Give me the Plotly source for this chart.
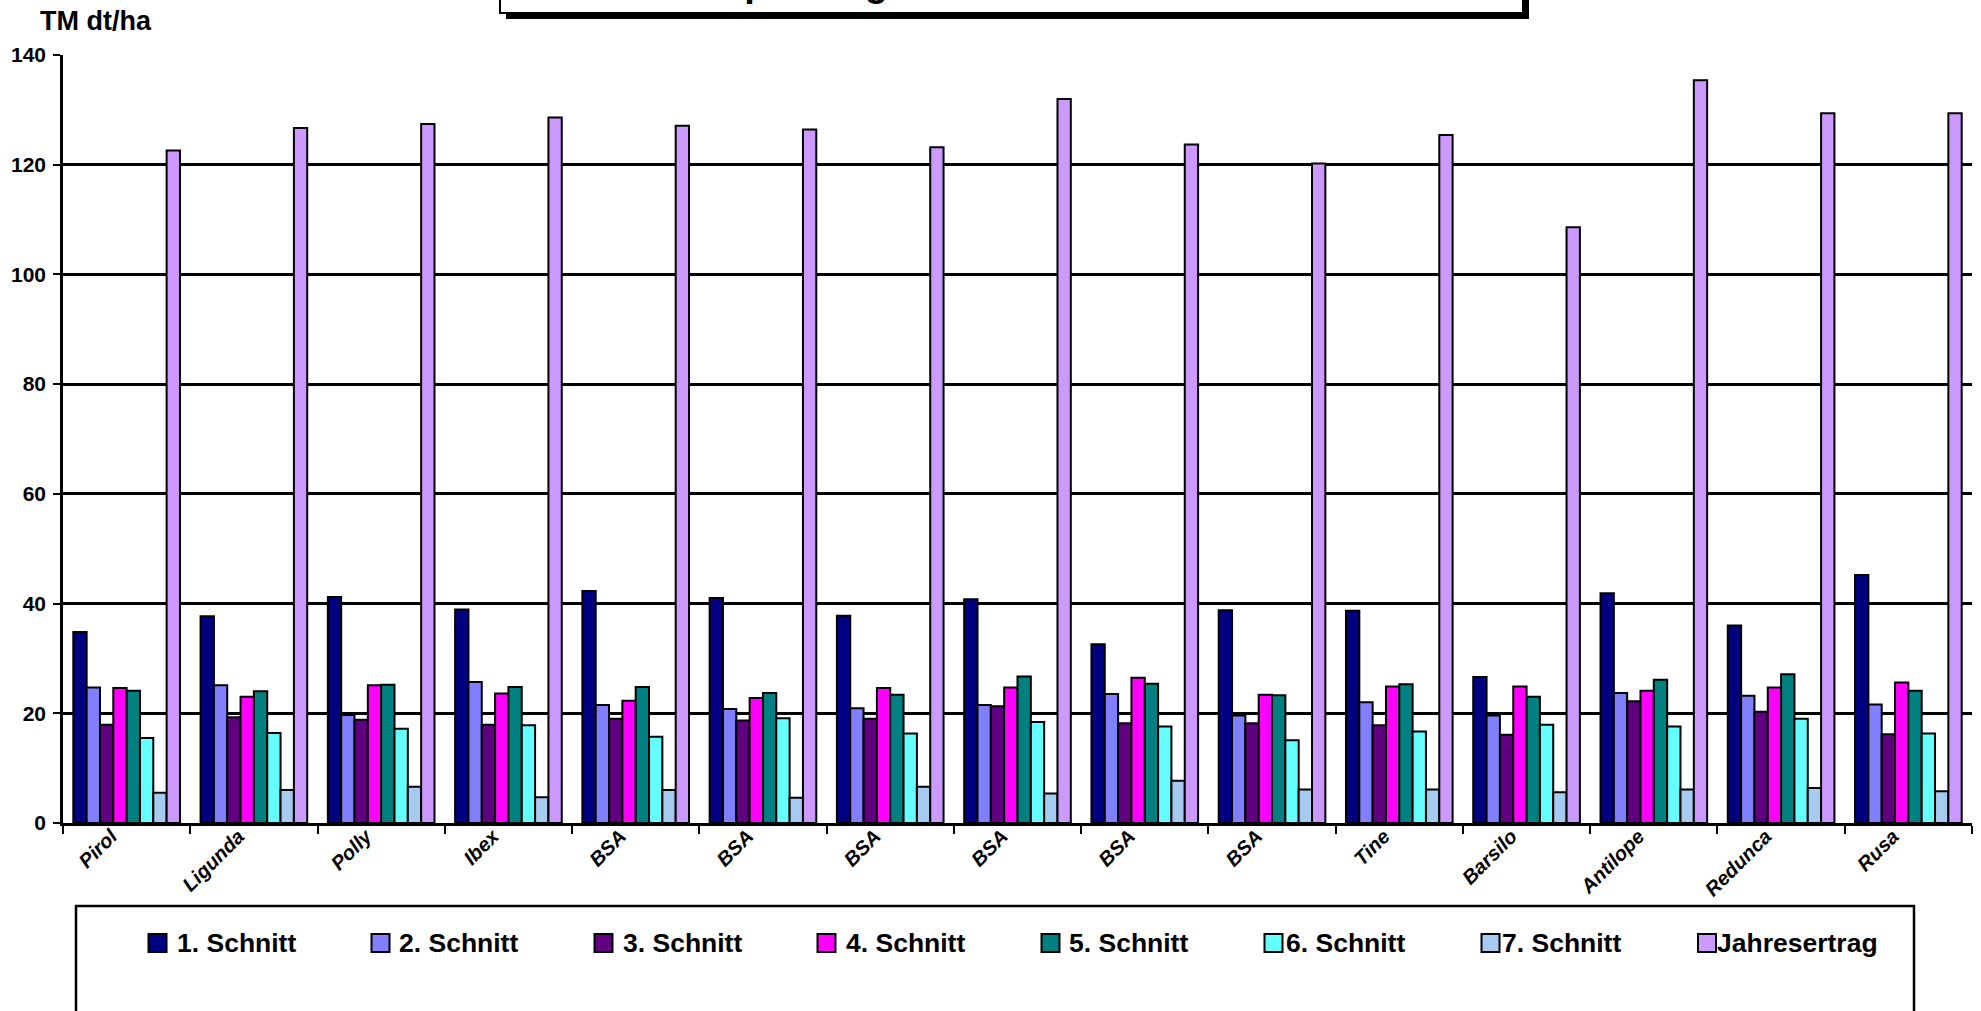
import plotly.graph_objects as go

# ---------------- data ----------------
categories = ["Pirol", "Ligunda", "Polly", "Ibex", "BSA", "BSA", "BSA", "BSA",
              "BSA", "BSA", "Tine", "Barsilo", "Antilope", "Redunca", "Rusa"]

schnitt1 = [34.8, 37.7, 41.2, 38.9, 42.3, 41.0, 37.8, 40.8, 32.6, 38.8, 38.7, 26.6, 41.9, 36.0, 45.2]
schnitt2 = [24.7, 25.1, 19.7, 25.7, 21.5, 20.8, 20.9, 21.5, 23.5, 19.6, 22.0, 19.6, 23.7, 23.2, 21.6]
schnitt3 = [17.9, 19.3, 18.8, 17.9, 19.0, 18.7, 19.0, 21.3, 18.2, 18.2, 17.8, 16.1, 22.2, 20.3, 16.2]
schnitt4 = [24.6, 23.0, 25.1, 23.6, 22.3, 22.8, 24.6, 24.7, 26.5, 23.4, 24.9, 24.9, 24.1, 24.7, 25.6]
schnitt5 = [24.1, 24.0, 25.2, 24.8, 24.8, 23.7, 23.4, 26.7, 25.4, 23.3, 25.3, 23.0, 26.1, 27.1, 24.1]
schnitt6 = [15.5, 16.4, 17.2, 17.8, 15.7, 19.1, 16.3, 18.4, 17.6, 15.1, 16.7, 17.9, 17.6, 19.0, 16.3]
schnitt7 = [5.5, 6.0, 6.6, 4.7, 6.0, 4.6, 6.6, 5.4, 7.7, 6.1, 6.1, 5.6, 6.1, 6.4, 5.8]
jahresertrag = [122.6, 126.7, 127.4, 128.6, 127.1, 126.4, 123.2, 132.0, 123.7, 120.2,
                125.4, 108.6, 135.4, 129.4, 129.4]

series_names = ["1. Schnitt", "2. Schnitt", "3. Schnitt", "4. Schnitt",
                "5. Schnitt", "6. Schnitt", "7. Schnitt", "Jahresertrag"]
series_values = [schnitt1, schnitt2, schnitt3, schnitt4, schnitt5, schnitt6, schnitt7, jahresertrag]

y_ticks = [0, 20, 40, 60, 80, 100, 120, 140]
y_title = "TM dt/ha"
chart_title = "Sortenprüfung 2005 – Trockenmasse"

# ---------------- style ----------------
colors = ["#000080", "#8080FF", "#600080", "#FF00FF", "#008080", "#66FFFF", "#A6CAF0", "#CC99FF"]
FONT = "Liberation Sans, Arial, sans-serif"
LABEL_SHIFT = 0.12  # rotated category labels sit slightly left of the group centre

W, H = 1981, 1011
ML, MR, MT, MB = 63, 9, 55, 188
PW, PH = W - ML - MR, H - MT - MB


def xp(px):
    return (px - ML) / PW


def yp(py):
    return (H - MB - py) / PH


x_pos = list(range(len(categories)))

fig = go.Figure()
for name, vals, col in zip(series_names, series_values, colors):
    fig.add_trace(go.Bar(
        x=x_pos, y=vals, name=name,
        marker=dict(color=col, line=dict(color="black", width=2)),
        showlegend=False,
    ))

shapes = []
annotations = []

# title box (cut at top of page) with shadow
shapes.append(dict(type="rect", xref="paper", yref="paper",
                   x0=xp(506), x1=xp(1529), y0=yp(19), y1=yp(-60),
                   fillcolor="black", line=dict(color="black", width=0), layer="above"))
shapes.append(dict(type="rect", xref="paper", yref="paper",
                   x0=xp(500), x1=xp(1523), y0=yp(13), y1=yp(-66),
                   fillcolor="white", line=dict(color="black", width=2), layer="above"))
annotations.append(dict(text="<b>" + chart_title + "</b>", xref="paper", yref="paper",
                        x=xp(622), y=yp(6), xanchor="left", yanchor="bottom",
                        showarrow=False, font=dict(family=FONT, size=38, color="black")))

# y axis title
annotations.append(dict(text="<b>" + y_title + "</b>", xref="paper", yref="paper",
                        x=xp(38), y=yp(21), xanchor="left", yanchor="middle",
                        showarrow=False, font=dict(family=FONT, size=27, color="black")))

# legend box (manual)
shapes.append(dict(type="rect", xref="paper", yref="paper",
                   x0=xp(76), x1=xp(1914), y0=yp(1040), y1=yp(906),
                   fillcolor="white", line=dict(color="black", width=2.5), layer="above"))
sym_cx = [157.5, 380.5, 603.5, 826.5, 1050.5, 1273.5, 1490.5, 1707]
txt_end = [298, 520, 744, 967, 1190, 1407, 1623, 1880]
leg_y = 943
for name, col, cx, tx in zip(series_names, colors, sym_cx, txt_end):
    shapes.append(dict(type="rect", xref="paper", yref="paper",
                       x0=xp(cx - 9), x1=xp(cx + 9), y0=yp(leg_y + 9), y1=yp(leg_y - 9),
                       fillcolor=col, line=dict(color="black", width=2), layer="above"))
    annotations.append(dict(text="<b>" + name + "</b>", xref="paper", yref="paper",
                            x=xp(tx), y=yp(leg_y), xanchor="right", yanchor="middle",
                            showarrow=False, font=dict(family=FONT, size=26.5, color="black")))

fig.update_layout(
    width=W, height=H,
    margin=dict(l=ML, r=MR, t=MT, b=MB, autoexpand=False),
    paper_bgcolor="white", plot_bgcolor="white",
    barmode="group", bargap=0.162, bargroupgap=0,
    showlegend=False,
    shapes=shapes, annotations=annotations,
    font=dict(family=FONT, color="black"),
)

fig.update_xaxes(
    range=[-0.5, len(categories) - 0.5],
    tickmode="array", tickvals=[i - LABEL_SHIFT for i in x_pos], ticktext=categories,
    tickangle=-45, ticks="",
    tickfont=dict(family=FONT, size=20, weight="bold", style="italic", color="black"),
    ticklabelstandoff=-9,
    showline=True, linecolor="black", linewidth=2.5,
    showgrid=False, zeroline=False,
    minor=dict(tickmode="linear", tick0=-0.5, dtick=1, ticks="outside",
               ticklen=8, tickwidth=2, tickcolor="black", showgrid=False),
    fixedrange=True,
)

fig.update_yaxes(
    range=[0, 140], tickmode="array", tickvals=y_ticks,
    ticks="outside", ticklen=7, tickwidth=2, tickcolor="black",
    tickfont=dict(family=FONT, size=21, weight="bold", color="black"),
    ticklabelstandoff=3,
    showline=True, linecolor="black", linewidth=2.5,
    showgrid=True, gridcolor="black", gridwidth=2.5,
    zeroline=False, fixedrange=True,
)

fig.write_html("out.html", config={"displayModeBar": False},
               post_script="document.body.style.margin='0';document.body.style.overflow='hidden';")
